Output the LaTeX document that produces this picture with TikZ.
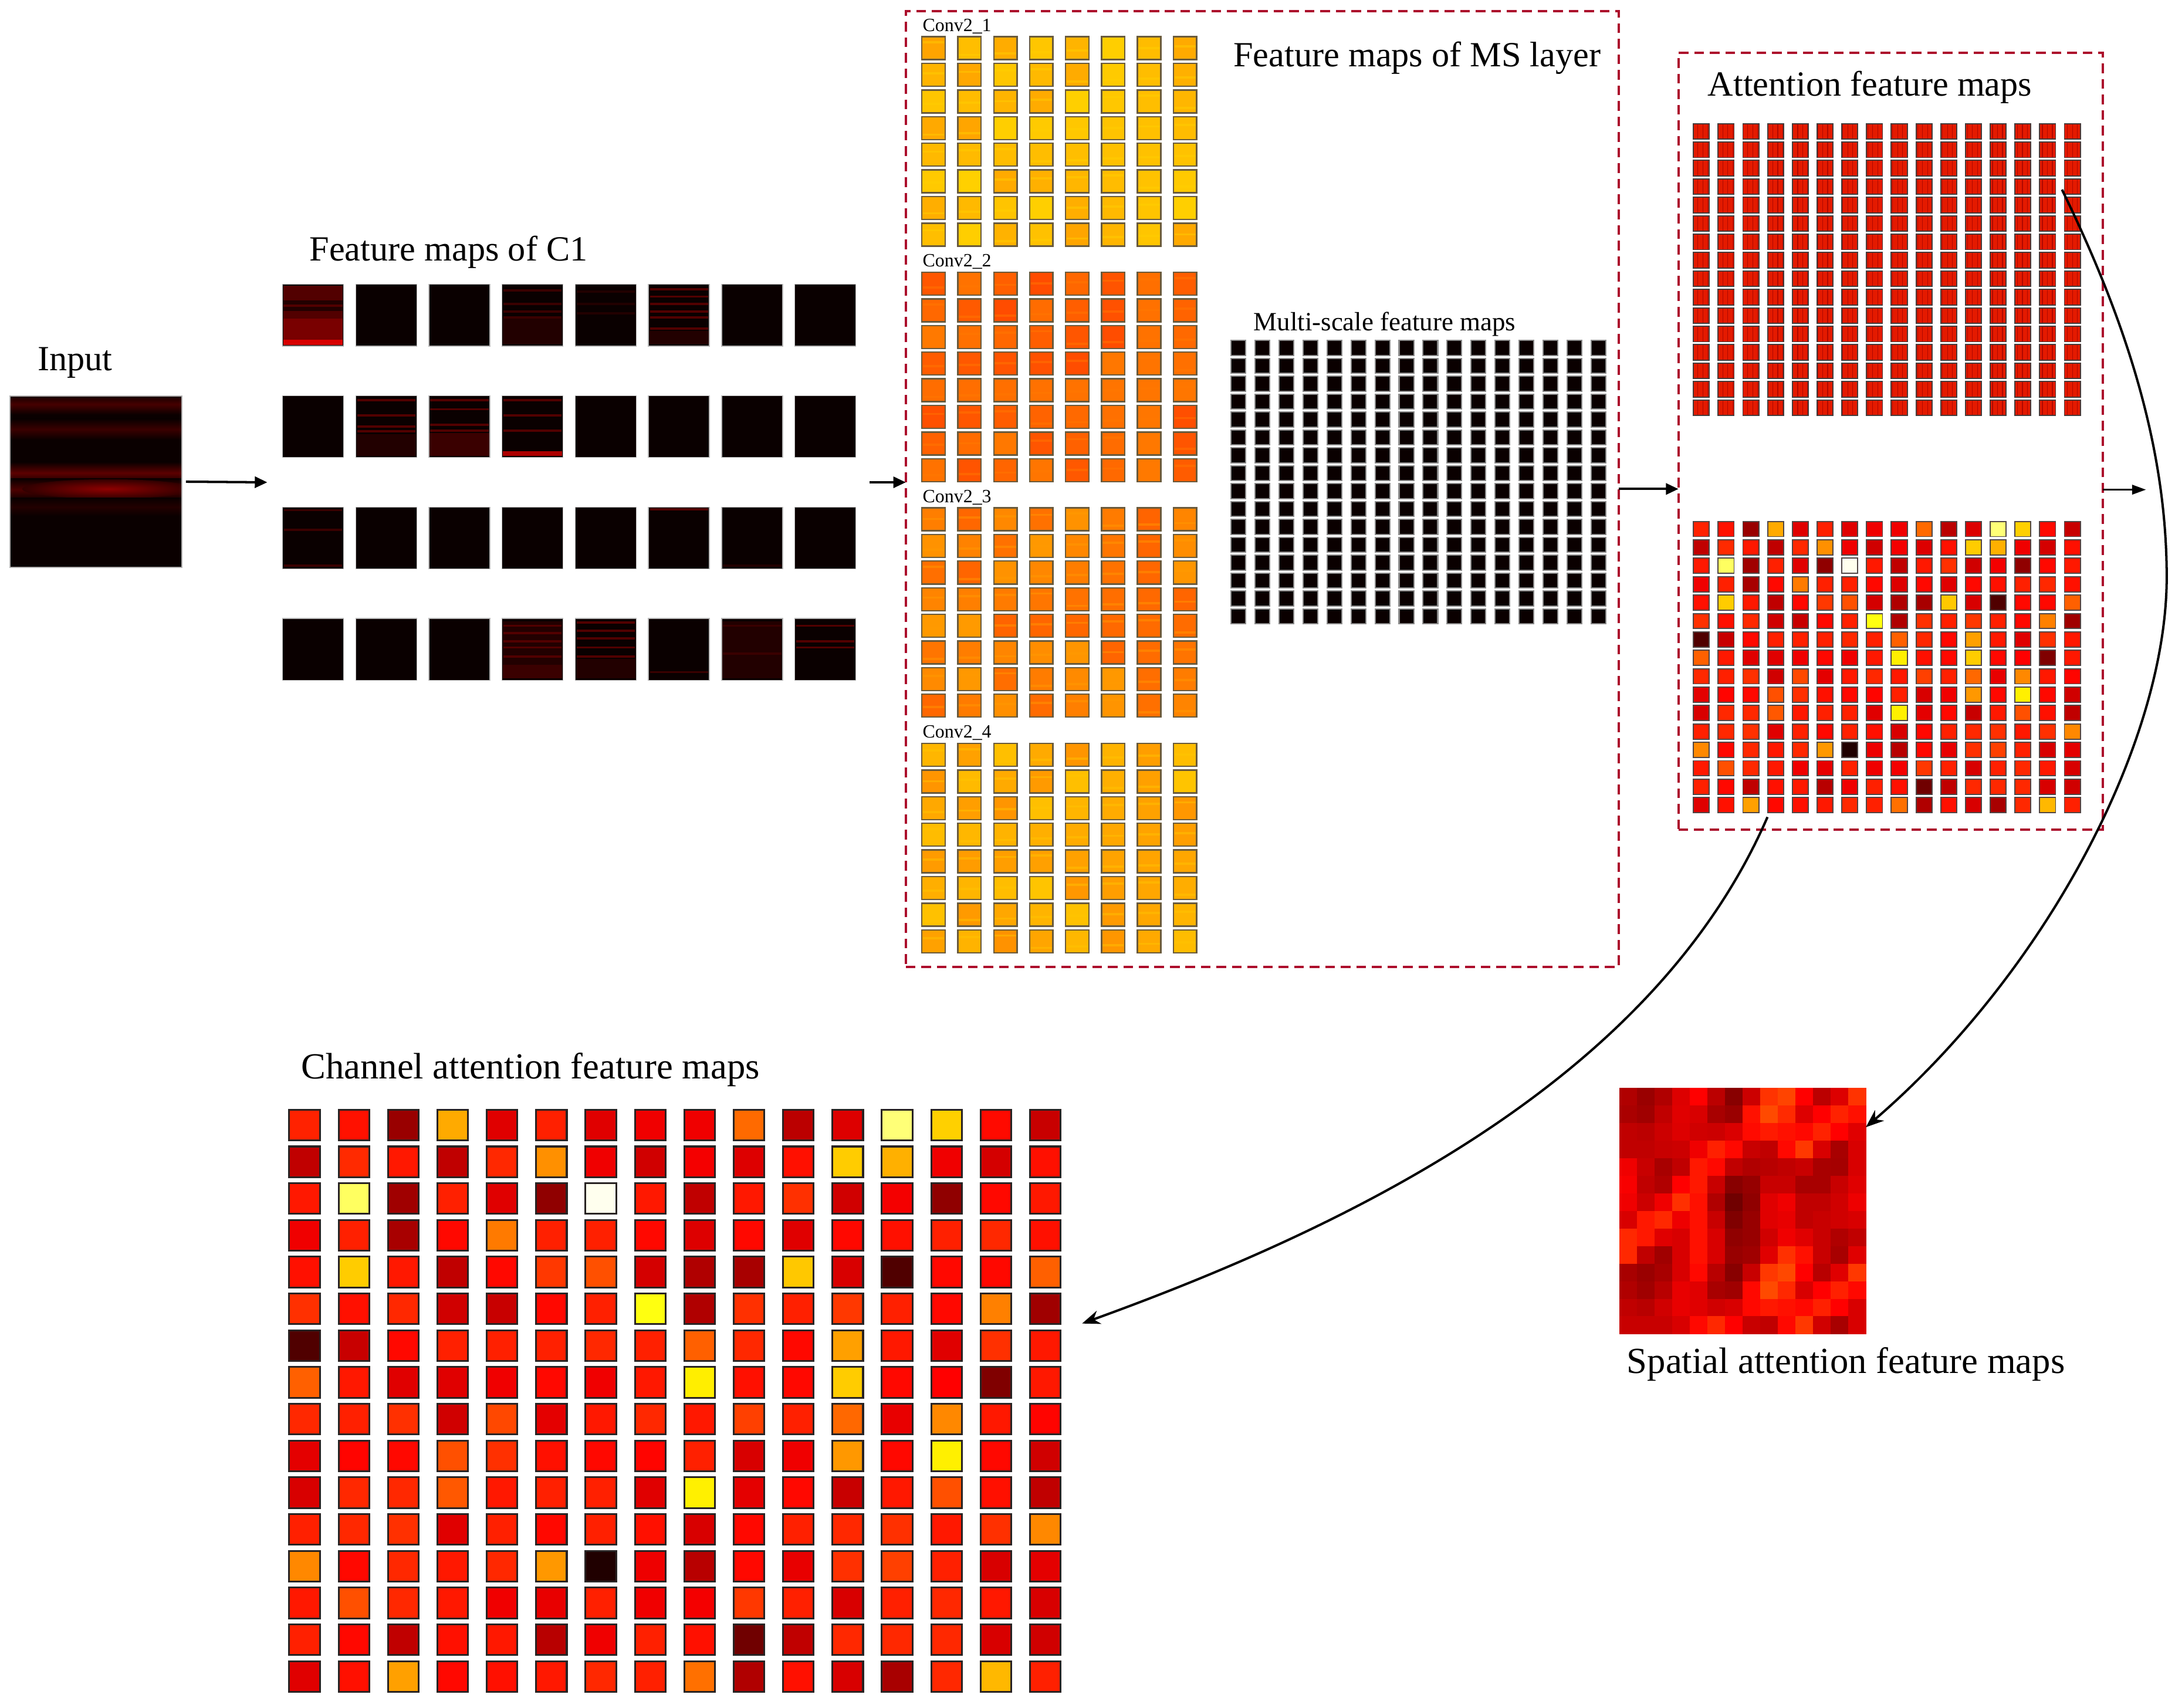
\documentclass[tikz,border=0pt]{standalone}
\usepackage{fontspec}
\setmainfont{Liberation Serif}
\usetikzlibrary{arrows.meta,patterns.meta,calc}
\definecolor{dashred}{RGB}{172,14,44}
\definecolor{mapbg}{HTML}{0A0000}
\definecolor{convborder}{RGB}{105,90,60}
\definecolor{msborder}{RGB}{140,140,140}
\definecolor{attred}{HTML}{E41A00}
\definecolor{attdark}{HTML}{B00800}
\definecolor{attborder}{RGB}{70,60,60}
\definecolor{lowborder}{RGB}{80,70,70}
\definecolor{chanborder}{RGB}{40,35,35}
\definecolor{cAa}{HTML}{FFD000}\definecolor{cAb}{HTML}{FFA400}
\definecolor{cBa}{HTML}{FF7A00}\definecolor{cBb}{HTML}{FF4C00}
\definecolor{cCa}{HTML}{FF9C00}\definecolor{cCb}{HTML}{FF6400}
\definecolor{cDa}{HTML}{FFC600}\definecolor{cDb}{HTML}{FF9200}
\definecolor{sA}{HTML}{220000}\definecolor{sB}{HTML}{3A0000}
\definecolor{sC}{HTML}{520000}\definecolor{sR}{HTML}{D80000}
\definecolor{inbA}{HTML}{460000}\definecolor{inbB}{HTML}{3A0000}
\definecolor{inbC}{HTML}{5C0000}\definecolor{inbD}{HTML}{4C0000}
\definecolor{inbE}{HTML}{8E0000}\definecolor{inbF}{HTML}{220000}
\tikzset{
  title/.style={anchor=base west, inner sep=0pt, font=\fontsize{25.5}{30}\selectfont},
  bigtitle/.style={anchor=base west, inner sep=0pt, font=\fontsize{26.5}{30}\selectfont},
  subtitle/.style={anchor=base west, inner sep=0pt, font=\fontsize{19}{22}\selectfont},
  convlabel/.style={anchor=base west, inner sep=0pt, font=\fontsize{13.5}{16}\selectfont},
  region/.style={anchor=north west, inner sep=0pt, outer sep=0pt},
  dashbox/.style={draw=dashred, line width=1.6pt, dash pattern=on 7pt off 4.2pt, anchor=north west, inner sep=0pt, outer sep=0pt},
  arrS/.style={-{Triangle[length=9pt,width=8pt]}, line width=1.7pt},
  arrT/.style={-{Triangle[length=10pt,width=7pt]}, line width=1pt},
  arrC/.style={-{Stealth[length=13pt,width=10pt]}, line width=1.7pt},
}
\newcommand\cstreak[4]{\foreach \f in {#4}{\fill[#3] ({203.7+#1*52.75+1},{205+#2*80.3+\f*44.5}) rectangle +(42,1.6);}}
\newcommand\cwash[5]{\fill[#3] ({203.7+#1*52.75+0.6},{205+#2*80.3+#4*44.5}) rectangle ({203.7+#1*52.75+43.4},{205+#2*80.3+#5*44.5});}
\def\chanrows{%
{FF2200,FF1100,990000,FFAA00,E00000,FF2000,E00000,F00000,F00000,FF6A00,BB0000,DD0000,FFFF77,FFD000,FF0A00,C80000},%
{C00000,FF2A00,FF1800,C00000,FF2800,FF9000,F00000,D00000,F40000,DD0000,FF1000,FFCC00,FFB000,F00000,D40000,FF1000},%
{FF1800,FFFF60,A00000,FF2000,E00000,900000,FFFFEE,FF1800,C00000,FF1800,FF3000,D00000,F40000,900000,FF0800,FF1800},%
{F00000,FF2000,A80000,FF0800,FF7A00,FF2000,FF2000,FF0800,DD0000,FF0800,E00000,FF0800,FF1000,FF2000,FF2800,FF1000},%
{FF1000,FFCC00,FF1800,C00000,FF0800,FF3800,FF5000,D40000,B00000,A80000,FFC800,D80000,500000,FF0800,FF0800,FF6000},%
{FF3000,FF1000,FF2800,D00000,C80000,FF0800,FF2000,FFFF10,B00000,FF3000,FF2000,FF3800,FF2000,FF0800,FF8000,A00000},%
{500000,C80000,FF0800,FF2000,FF2000,FF2000,FF2800,FF2000,FF6000,FF2800,FF0800,FFA000,FF1800,E00000,FF3000,FF1800},%
{FF6000,FF1800,E00000,E00000,F00000,FF0800,F00000,FF1800,FFEE00,FF1000,FF0800,FFCC00,FF0800,FF0000,800000,FF1800},%
{FF2800,FF2000,FF3000,D00000,FF4800,E40000,FF1800,FF2800,FF1800,FF4000,FF2000,FF6800,E80000,FF8800,FF1800,FF0400},%
{E40000,FF0400,FF0800,FF5000,FF3000,FF1000,FF0800,FF0400,FF2000,D80000,F00000,FF9800,FF0800,FFF000,FF0800,D00000},%
{D80000,FF2800,FF2800,FF5800,FF1800,FF2000,FF2000,E00000,FFF000,E40000,FF0800,C80000,FF1800,FF5000,FF1000,C00000},%
{FF2000,FF2800,FF3000,E00000,FF2000,FF0800,FF2000,FF1000,D80000,FF0800,FF2000,FF2800,FF3000,FF1800,FF3000,FF8800},%
{FF8800,FF0800,FF2800,FF1800,FF2800,FF9800,200000,EE0000,B80000,FF0800,E80000,FF3000,FF4000,FF2000,D80000,E40000},%
{FF1800,FF5000,FF2800,FF1800,F00000,E80000,FF2000,F00000,F40000,FF3800,FF2000,D80000,FF2000,FF2800,FF1800,D80000},%
{FF2000,FF0800,C00000,FF1000,FF1800,B80000,F00000,FF2000,FF1000,700000,C00000,FF2800,FF2800,FF2800,D80000,D00000},%
{E00000,FF1000,FFA000,FF0800,FF1000,FF1800,FF2800,FF2000,FF7000,B00000,FF1000,D80000,A80000,FF2800,FFB800,FF2000}}
\def\spatrows{%
{B00000,9A0000,B00000,DD0000,FF0000,BB0000,880000,CC0000,FF3300,FF4400,FF0000,BB0000,DD0000,FF3300},%
{AA0000,A00000,C00000,E00000,D80000,A80000,9A0000,FF1100,FF4A00,FF2A00,DD0000,FF0000,FF2200,FF1000},%
{C00000,BB0000,CC0000,DD0000,D00000,CC0000,DA0000,FF0A00,FF1A00,FF1000,FF0800,FF2200,FF0000,E00000},%
{C00000,C00000,C80000,CC0000,F00000,FF2000,FF0800,C80000,C00000,FF0800,FF3800,D80000,A80000,D80000},%
{F00000,C80000,A80000,C00000,FF1800,FF0800,C00000,B00000,B80000,C00000,C80000,A80000,A50000,D80000},%
{F80000,C00000,B00000,FF0000,FF1800,C80000,880000,960000,C80000,C80000,A80000,A80000,C80000,E00000},%
{F00000,CC0000,F00000,FF3000,FF1000,B00000,700000,900000,E00000,F00000,C00000,C00000,D00000,EE0000},%
{D80000,FF1800,FF2800,EE0000,FF1000,C80000,800000,980000,E00000,E80000,C00000,C80000,D00000,D80000},%
{FF2800,FF1800,E00000,D80000,FF1000,D80000,900000,980000,D00000,F00000,E00000,C80000,B00000,C00000},%
{FF2800,C00000,A00000,D80000,FF1000,D80000,980000,A00000,E00000,FF3000,FF1000,C80000,A80000,E00000},%
{A80000,9A0000,A80000,D80000,FF0800,B80000,880000,C80000,FF3800,FF4800,FF0000,B80000,E00000,FF3800},%
{B00000,A00000,B80000,E80000,E00000,A80000,A00000,FF0800,FF4A00,FF2800,D80000,FF0000,FF2000,FF0800},%
{C00000,B80000,D00000,E80000,E00000,D00000,D80000,FF0800,FF1800,FF1000,FF0800,FF2000,FF0000,D80000},%
{C80000,C80000,C80000,D80000,FF0800,FF2800,FF0000,C80000,C00000,FF0800,FF3800,D00000,A80000,D80000}}
\begin{document}
\begin{tikzpicture}[x=1pt,y=-1pt]
\useasboundingbox (0,0) rectangle (1568,1231);
\fill[white] (0,0) rectangle (1568,1231);

% ---------- titles ----------
\node[title] (tInput) at (27,267) {Input};
\node[title] (tC1) at (223,188) {Feature maps of C1};
\node[title] (tMS) at (889,48) {Feature maps of MS layer};
\node[title] (tAtt) at (1231,69) {Attention feature maps};
\node[subtitle] (tMulti) at (903.6,238.4) {Multi-scale feature maps};
\node[bigtitle] (tChan) at (217,777.6) {Channel attention feature maps};
\node[bigtitle] (tSpat) at (1172.7,990) {Spatial attention feature maps};
\node[convlabel] (tConvA) at (665,22.5) {Conv2\_1};
\node[convlabel] (tConvB) at (665,192.3) {Conv2\_2};
\node[convlabel] (tConvC) at (665,362.1) {Conv2\_3};
\node[convlabel] (tConvD) at (665,531.9) {Conv2\_4};

% ---------- dashed boxes ----------
\node[dashbox, minimum width=514pt, minimum height=689pt] (ms) at (653,8) {};
\node[dashbox, minimum width=306pt, minimum height=560pt] (att) at (1210,38) {};

% ---------- input image ----------
\node[region, draw=gray!60, line width=.8pt, fill=mapbg, minimum width=123.7pt, minimum height=123.5pt] (inp) at (7.3,285.5) {};
\begin{scope}
\clip (7.8,286) rectangle (130.5,408.5);
\shade[top color=mapbg, bottom color=mapbg, middle color=inbA] (7,284) rectangle (131,299);
\shade[top color=mapbg, bottom color=mapbg, middle color=inbB] (7,302) rectangle (131,317);
\shade[top color=mapbg, bottom color=mapbg, middle color=inbC] (7,333) rectangle (131,349);
\shade[top color=mapbg, bottom color=mapbg, middle color=inbD] (7,345) rectangle (131,361);
\shade[inner color=inbE, outer color=inbD!60!mapbg] (78,352.5) ellipse [x radius=62, y radius=7];
\shade[top color=mapbg, bottom color=mapbg, middle color=inbF] (7,359) rectangle (131,372);
\end{scope}

% ---------- C1 maps ----------
\node[region, minimum width=413.3pt, minimum height=285.4pt] (c1) at (203.7,205) {};
\foreach \i in {0,...,3}{\foreach \j in {0,...,7}{
  \filldraw[fill=mapbg, draw=gray!55, line width=.6pt] ({203.7+\j*52.75},{205+\i*80.3}) rectangle +(44,44.5);}}
\cwash{0}{0}{sC}{0.02}{0.98}
\cwash{0}{0}{sA}{0.26}{0.33}
\cwash{0}{0}{sA}{0.36}{0.43}
\cwash{0}{0}{sC!60!red!80!black}{0.55}{0.9}
\cwash{0}{0}{sR}{0.9}{0.98}
\cwash{3}{0}{sA}{0.55}{0.97}
\cstreak{3}{0}{sB}{0.08,0.3,0.42,0.52}
\cstreak{4}{0}{sA}{0.1,0.3,0.45}
\cwash{5}{0}{sA}{0.75}{0.97}
\cstreak{5}{0}{sC}{0.06,0.18,0.3,0.42,0.52,0.7}
\cwash{1}{1}{sA}{0.62}{0.97}
\cstreak{1}{1}{sC}{0.05,0.3,0.48,0.56}
\cwash{2}{1}{sB}{0.6}{0.97}
\cstreak{2}{1}{sC}{0.05,0.2,0.45,0.55}
\cstreak{3}{1}{sC}{0.05,0.3,0.55}
\cwash{3}{1}{sR!80!black}{0.9}{0.97}
\cstreak{0}{2}{sB}{0.03,0.35,0.93}
\cstreak{5}{2}{sC}{0.02}
\cstreak{6}{2}{sA}{0.93}
\cwash{3}{3}{sA}{0.05}{0.97}
\cstreak{3}{3}{sC}{0.1,0.22,0.35,0.45,0.6}
\cwash{3}{3}{sB}{0.75}{0.97}
\cwash{4}{3}{sA}{0.65}{0.97}
\cstreak{4}{3}{sC}{0.05,0.18,0.3,0.45,0.6}
\cstreak{5}{3}{sB}{0.85}
\cwash{6}{3}{sA}{0.05}{0.97}
\cstreak{6}{3}{sB}{0.1,0.55}
\cstreak{7}{3}{sC}{0.1,0.35,0.45}

% ---------- Conv2 grids ----------
\foreach \k/\ca/\cb in {0/cAa/cAb,1/cBa/cBb,2/cCa/cCb,3/cDa/cDb}{
  \foreach \i in {0,...,7}{
    \foreach \j in {0,...,7}{
      \pgfmathtruncatemacro{\rr}{mod(\i*37+\j*59+\k*23+\i*\j*11,100)}
      \pgfmathsetmacro{\sy}{0.2+0.6*mod(\i*13+\j*29+\k*7,10)/10}
      \filldraw[fill=\ca!\rr!\cb, draw=convborder, line width=1pt] ({664.6+\j*25.9},{26.5+\k*169.8+\i*19.2}) rectangle +(16.8,16.5);
      \fill[\ca, opacity=0.45] ({665.3+\j*25.9},{26.5+\k*169.8+\i*19.2+\sy*16.5}) rectangle +(15.4,1.6);
    }
  }
}

% ---------- multi-scale grid ----------
\foreach \i in {0,...,15}{\foreach \j in {0,...,15}{
  \filldraw[fill=mapbg, draw=msborder, line width=.9pt] ({887.5+\j*17.3},{245.5+\i*12.9}) rectangle +(10.6,10.7);}}

% ---------- attention grid (top) ----------
\node[region, minimum width=279pt, minimum height=210.4pt] (attTop) at (1220.8,89.1) {};
\foreach \i in {0,...,15}{\foreach \j in {0,...,15}{
  \fill[attred] ({1220.8+\j*17.83},{89.1+\i*13.28}) rectangle +(11.5,11.2);
  \fill[pattern={Lines[angle=90,distance=3.6pt,line width=.5pt]}, pattern color=attdark] ({1220.8+\j*17.83},{89.1+\i*13.28}) rectangle +(11.5,11.2);
  \draw[attborder, line width=.8pt] ({1220.8+\j*17.83},{89.1+\i*13.28}) rectangle +(11.5,11.2);}}

% ---------- attention grid (bottom) and channel attention ----------
\node[region, minimum width=279pt, minimum height=209.8pt] (attLow) at (1220.8,375.9) {};
\node[region, minimum width=556.1pt, minimum height=419.6pt] (chan) at (208.5,800) {};
\foreach \row [count=\i from 0] in \chanrows {
  \foreach \cc [count=\j from 0] in \row {
    \definecolor{cc}{HTML}{\cc}
    \filldraw[fill=cc, draw=lowborder, line width=.8pt] ({1220.8+\j*17.83},{375.9+\i*13.27}) rectangle +(11.5,10.9);
    \filldraw[fill=cc, draw=chanborder, line width=1.3pt] ({208.5+\j*35.6},{800+\i*26.5}) rectangle +(22.1,22.1);
  }
}

% ---------- spatial attention map ----------
\node[region, minimum width=177.6pt, minimum height=177.3pt] (spat) at (1167.5,784.3) {};
\foreach \row [count=\i from 0] in \spatrows {
  \foreach \cc [count=\j from 0] in \row {
    \definecolor{cc}{HTML}{\cc}
    \fill[cc] ({1167.5+\j*12.686},{784.3+\i*12.664}) rectangle +(12.9,12.9);
  }
}

% ---------- connectors ----------
\coordinate (out) at (1547,353);
\coordinate (s1) at (1486.5,136.7);
\coordinate (s2) at (1274.2,589);
\coordinate (e2) at (780.1,954.1);
\draw[arrS] ([xshift=3pt]inp.east) -- ([xshift=-11pt]c1.west);
\draw[arrS] ([xshift=10pt]c1.east) -- (c1.east -| ms.west);
\draw[arrS] (ms.east) -- (ms.east -| att.west);
\draw[arrT] (att.east |- out) -- (out);
\draw[arrC] (s1) .. controls (1534.9,235.7) and (1562,326) .. (1562,416)
             .. controls (1562,536) and (1473.7,702.1) .. ($(spat.north east)+(0,28.3)$);
\draw[arrC] (s2) .. controls (1194.2,773) and (986.9,879.3) .. (e2);
\end{tikzpicture}
\end{document}
